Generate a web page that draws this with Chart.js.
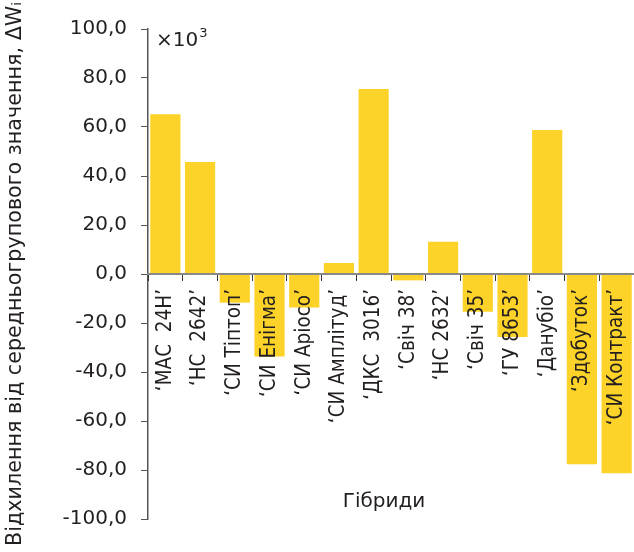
<!DOCTYPE html>
<html>
<head>
<meta charset="utf-8">
<script src="https://cdn.jsdelivr.net/npm/chart.js@4/dist/chart.umd.min.js"></script>
<style>
  body { margin: 0; background: #fff; overflow: hidden; }
</style>
</head>
<body>
<canvas id="myChart" width="634" height="552"></canvas>
<script>
// datos del grafico
var hibrydy = ['‘МАС  24Н’', '‘НС  2642’', '‘СИ Тіптоп’', '‘СИ Енігма’', '‘СИ Аріосо’', '‘СИ Амплітуд’',
               '‘ДКС  3016’', '‘Свіч 38’', '‘НС 2632’', '‘Свіч 35’', '‘ГУ 8653’', '‘Данубіо’', '‘Здобуток’', '‘СИ Контракт’'];
var vidhylennia = [65.2, 45.7, -11.7, -33.7, -13.7, 4.5, 75.5, -2.6, 13.2, -15.4, -25.7, 58.8, -77.7, -81.3];
var yTicks = [-100, -80, -60, -40, -20, 0, 20, 40, 60, 80, 100];

var fontName = '"DejaVu Sans", sans-serif';
var narrowFont = '"Liberation Sans Narrow", "DejaVu Sans Condensed", sans-serif';
var textColor = '#231f20';

// textos extra: x10^3 y titulo del eje x
var textosExtra = {
    id: 'textosExtra',
    afterDraw: function(chart)
    {
        var ctx = chart.ctx;
        var area = chart.chartArea;
        var y = chart.scales.y;
        ctx.save();
        ctx.fillStyle = textColor;
        ctx.textBaseline = 'alphabetic';
        ctx.textAlign = 'left';
        ctx.font = '20px ' + fontName;
        ctx.fillText('×10', area.left + 8, area.top + 17);
        var w = ctx.measureText('×10').width;
        ctx.font = '13px ' + fontName;
        ctx.fillText('3', area.left + 8 + w + 1, area.top + 8);

        ctx.font = '20px ' + fontName;
        ctx.textAlign = 'center';
        ctx.textBaseline = 'middle';
        ctx.fillText('Гібриди', 384, y.getPixelForValue(-93));
        ctx.restore();
    }
};

var ctx = document.getElementById('myChart').getContext('2d');
var myChart = new Chart(ctx,
{
    type: 'bar',
    data:
    {
        labels: hibrydy,
        datasets:
        [
            {
                data: vidhylennia,
                backgroundColor: '#fdd329',
                borderWidth: 0,
                barPercentage: 0.87,
                categoryPercentage: 1.0
            }
        ]
    },
    options:
    {
        responsive: false,
        animation: false,
        layout: { padding: { top: 29, bottom: 33, left: 3, right: 0 } },
        plugins:
        {
            legend: { display: false },
            tooltip: { enabled: false }
        },
        scales:
        {
            x:
            {
                position: { y: 0 },
                afterFit: function(scale)
                {
                    scale.paddingLeft = 0;
                    scale.paddingRight = 0;
                },
                grid:
                {
                    offset: true,
                    drawOnChartArea: false,
                    drawTicks: true,
                    tickLength: 6,
                    color: '#333',
                    z: 1
                },
                border: { color: '#888', width: 2, z: 1 },
                ticks:
                {
                    minRotation: 90,
                    maxRotation: 90,
                    autoSkip: false,
                    padding: 9,
                    color: textColor,
                    z: 1,
                    font: { family: narrowFont, size: 20.5 }
                }
            },
            y:
            {
                min: -100,
                max: 100,
                afterBuildTicks: function(scale)
                {
                    scale.ticks = yTicks.map(function(v) { return { value: v }; });
                },
                afterFit: function(scale)
                {
                    scale.width = 145;
                    scale.paddingTop = 0;
                    scale.paddingBottom = 0;
                },
                grid:
                {
                    drawOnChartArea: false,
                    tickLength: 7,
                    color: '#555'
                },
                border: { color: '#555', width: 1.5 },
                ticks:
                {
                    padding: 14,
                    color: textColor,
                    font: { family: fontName, size: 20 },
                    callback: function(v) { return v.toFixed(1).replace('.', ','); }
                },
                title:
                {
                    display: true,
                    text: 'Відхилення від середньогрупового значення, ΔWᵢ',
                    color: textColor,
                    font: { family: fontName, size: 20.7 },
                    padding: { top: 0, bottom: 0 }
                }
            }
        }
    },
    plugins: [textosExtra]
});
</script>
</body>
</html>
